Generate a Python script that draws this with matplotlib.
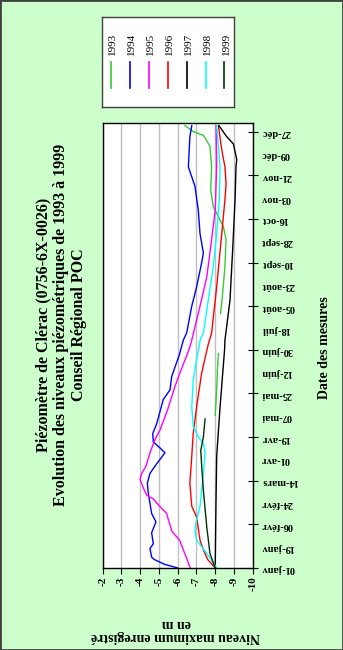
import numpy as np
import matplotlib
matplotlib.use("Agg")
import matplotlib.pyplot as plt
from matplotlib.patches import Rectangle

plt.rcParams['font.family'] = ['Liberation Serif', 'DejaVu Serif']

# jour de l'annee (1 = 01-janv) et niveau (m)
days_1993 = [127, 140, 155, 165, 178, 190, 211, 228, 250, 272, 283, 291, 299, 313, 332, 349, 358, 361, 366]
lvl_1993 = [-8.0, -8.05, -8.1, -8.12, -8.17, np.nan, -8.29, -8.4, -8.52, -8.58, -8.43, -8.17, -7.9, -7.76,
            -7.81, -7.72, -7.37, -6.84, -6.39]

days_1994 = [1, 4, 8, 10, 17, 21, 30, 39, 46, 63, 71, 79, 87, 96, 100, 105, 112, 120, 140, 148, 159, 177,
             189, 195, 217, 233, 253, 261, 277, 296, 316, 332, 357, 366]
lvl_1994 = [-6.0, -5.3, -4.75, -4.61, -4.52, -4.7, -4.61, -4.84, -4.61, -4.43, -4.38, -4.52, -4.88, -5.32,
            -5.06, -4.7, -4.67, -4.88, -5.23, -5.59, -5.68, -6.09, -6.3, -6.48, -6.75, -7.01, -7.28, -7.37,
            -7.19, -7.1, -6.92, -6.57, -6.65, -6.75]

days_1995 = [1, 8, 16, 24, 31, 41, 46, 53, 58, 61, 67, 74, 79, 85, 96, 107, 115, 131, 151, 162, 181, 189,
             217, 241, 272, 296, 332, 366]
lvl_1995 = [-6.67, -6.5, -6.3, -6.1, -5.7, -5.5, -5.41, -4.97, -4.7, -4.35, -4.17, -3.99, -4.08, -4.31,
            -4.52, -4.79, -5.06, -5.45, -5.86, -6.12, -6.6, -6.75, -7.19, -7.55, -7.81, -8.0, -8.08, -8.05]

days_1996 = [1, 8, 16, 24, 43, 52, 71, 93, 112, 134, 162, 185, 195, 233, 277, 305, 318, 332, 346, 366]
lvl_1996 = [-8.0, -7.6, -7.37, -7.19, -7.01, -6.75, -6.65, -6.75, -6.83, -7.01, -7.28, -7.62, -7.81, -8.08,
            -8.35, -8.52, -8.58, -8.52, -8.35, -8.17]

days_1997 = [1, 52, 93, 134, 181, 189, 222, 263, 305, 332, 338, 351, 357, 366]
lvl_1997 = [-8.0, -8.04, -8.08, -8.26, -8.5, -8.52, -8.79, -8.93, -9.06, -9.11, -9.15, -8.97, -8.61, -8.2]

days_1998 = [1, 13, 24, 32, 41, 52, 65, 79, 96, 104, 109, 118, 134, 156, 173, 189, 195, 222, 250, 277,
             305, 332, 366]
lvl_1998 = [-8.08, -7.55, -7.01, -6.92, -7.01, -7.19, -7.28, -7.37, -7.46, -7.37, -7.1, -6.83, -6.75, -6.83,
            -7.01, -7.2, -7.37, -7.63, -7.9, -8.08, -8.22, -8.26, -8.08]

days_1999 = [1, 13, 35, 65, 85, 98, 109, 124]
lvl_1999 = [-8.0, -7.72, -7.55, -7.37, -7.28, -7.23, -7.37, -7.46]

years = ["1993", "1994", "1995", "1996", "1997", "1998", "1999"]
colors = ["#33CC33", "#0000FF", "#FF00FF", "#FF0000", "#000000", "#00FFFF", "#003300"]

date_labels = ["01-janv", "19-janv", "06-févr", "24-févr", "14-mars", "01-avr", "19-avr", "07-mai",
               "25-mai", "12-juin", "30-juin", "18-juil", "05-août", "23-août", "10-sept", "28-sept",
               "16-oct", "03-nov", "21-nov", "09-déc", "27-déc"]
date_days = list(range(1, 362, 18))
levels = list(range(-2, -11, -1))

series = [(days_1993, lvl_1993), (days_1994, lvl_1994), (days_1995, lvl_1995), (days_1996, lvl_1996),
          (days_1997, lvl_1997), (days_1998, lvl_1998), (days_1999, lvl_1999)]

fig = plt.figure(figsize=(3.43, 6.5), dpi=100, facecolor="#CCFFCC")
ax = fig.add_axes([0.2994, 0.1262, 0.4373, 0.6846])
ax.set_facecolor("white")

for (d, v), c in zip(series, colors):
    ax.plot(v, d, color=c, lw=1.0)

ax.set_xlim(-2, -10)
ax.set_ylim(1, 368.2)
ax.set_xticks(levels)
ax.set_xticklabels([str(l) for l in levels], rotation=90, fontsize=8, fontweight="bold")
ax.grid(axis="x", color="#C0C0C0", lw=1.0)
ax.set_axisbelow(True)

ax.yaxis.tick_right()
ax.set_yticks(date_days[::2])
ax.set_yticklabels(date_labels[::2], rotation=180, fontsize=7.5, fontweight="bold")
ax.set_yticks(date_days[1::2], minor=True)
ax.set_yticklabels(date_labels[1::2], minor=True, rotation=180, fontsize=7.5, fontweight="bold")
ax.tick_params(axis="y", which="major", direction="inout", length=6.5, width=0.8, pad=3)
ax.tick_params(axis="y", which="minor", length=0, pad=6)
ax.tick_params(axis="x", direction="out", length=4, width=0.8, pad=2)
for s in ax.spines.values():
    s.set_color("black")
    s.set_linewidth(1.0)

# titres (graphique tourne)
fig.text(61 / 343, 0.5, "Piézomètre de Clérac (0756-6X-0026)\n"
         "Evolution des niveaux piézométriques de 1993 à 1999\nConseil Régional POC",
         rotation=90, ha="center", va="center", fontsize=11.5, fontweight="bold",
         multialignment="center", linespacing=1.15)
fig.text(176 / 343, 20 / 650, "Niveau maximum enregistré\nen m", rotation=180, ha="center", va="center",
         fontsize=10, fontweight="bold", multialignment="center", linespacing=1.1)
fig.text(324 / 343, 302 / 650, "Date des mesures", rotation=90, ha="center", va="center",
         fontsize=10, fontweight="bold")

# legende
lax = fig.add_axes([0.2965, 0.8358, 0.3866, 0.1375])
lax.set_xlim(0, 1)
lax.set_ylim(0, 1)
lax.set_xticks([])
lax.set_yticks([])
for s in lax.spines.values():
    s.set_color("#404040")
    s.set_linewidth(1.0)
for i, (y, c) in enumerate(zip(years, colors)):
    x = (9.3 + 18.9 * i) / 132.6
    lax.plot([x, x], [0.21, 0.50], color=c, lw=1.2)
    lax.text(x + 0.012, 0.70, y, rotation=90, ha="center", va="center", fontsize=8)

fig.patches.append(Rectangle((0, 0), 1, 1, transform=fig.transFigure, fill=False,
                             edgecolor="#404040", lw=2))

fig.savefig("out.png", dpi=100, facecolor=fig.get_facecolor())
